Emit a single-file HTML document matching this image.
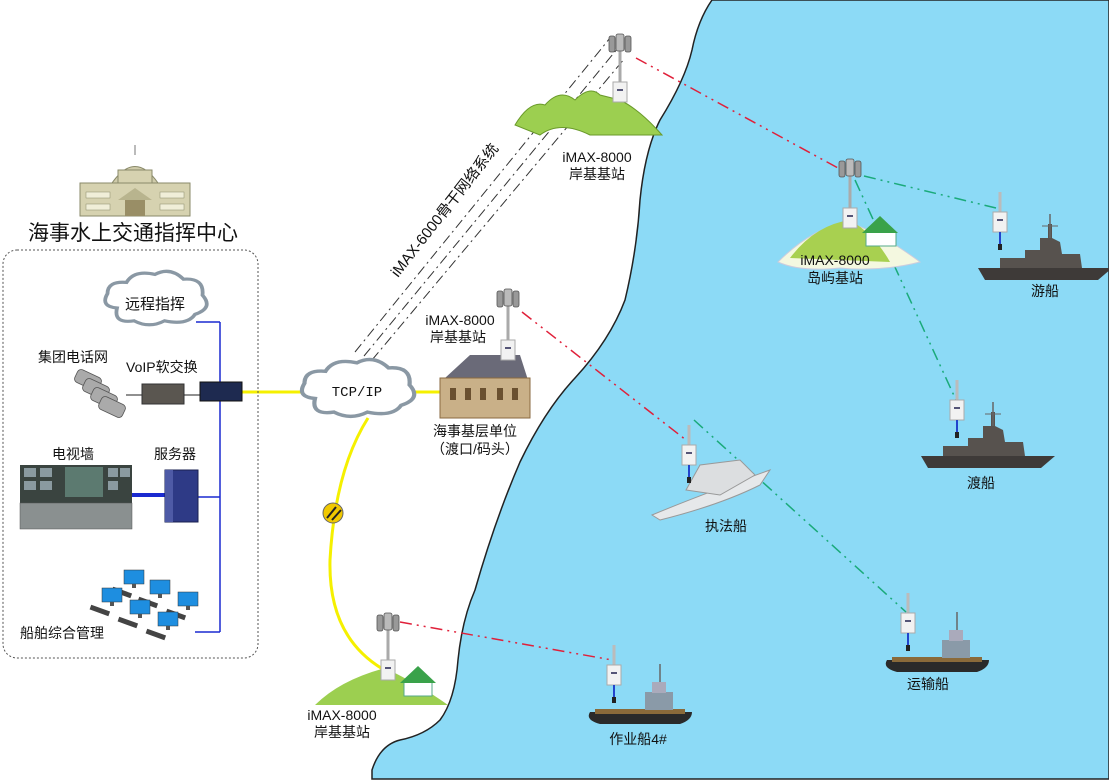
<!DOCTYPE html>
<html><head><meta charset="utf-8"><style>
html,body{margin:0;padding:0;background:#fff;}
svg{display:block;font-family:"Liberation Sans","Noto Sans CJK SC",sans-serif;}
</style></head><body>
<svg width="1109" height="781" viewBox="0 0 1109 781" xmlns="http://www.w3.org/2000/svg">
<defs>
<g id="ant">
  <rect x="-11" y="-9" width="6" height="16" rx="2" fill="#999" stroke="#555" stroke-width="0.8"/>
  <rect x="5" y="-9" width="6" height="16" rx="2" fill="#999" stroke="#555" stroke-width="0.8"/>
  <rect x="-4" y="-11" width="8" height="17" rx="2" fill="#bbb" stroke="#555" stroke-width="0.8"/>
</g>
<g id="box"><rect x="-7" y="-10" width="14" height="20" fill="#f2f2f2" stroke="#aaa"/><rect x="-3" y="-3" width="6" height="2" fill="#557"/></g>
<g id="radio">
  <line x1="0" y1="-30" x2="0" y2="-10" stroke="#bbb" stroke-width="3"/>
  <use href="#box"/>
  <line x1="0" y1="10" x2="0" y2="24" stroke="#2244cc" stroke-width="2"/>
  <rect x="-2" y="22" width="4" height="6" fill="#222"/>
</g>
<g id="warship">
  <path d="M-62 -2 L-55 10 L58 10 L72 -2 Z" fill="#3e3a38"/>
  <path d="M-40 -2 L-40 -12 L-15 -12 L-15 -20 L0 -20 L0 -32 L8 -32 L8 -46 L12 -46 L12 -32 L20 -28 L22 -16 L40 -16 L42 -2 Z" fill="#57524e"/>
  <line x1="10" y1="-56" x2="10" y2="-32" stroke="#666" stroke-width="1.5"/>
  <line x1="2" y1="-44" x2="18" y2="-44" stroke="#666"/>
</g>
<g id="tug">
  <path d="M-50 0 Q-55 8 -40 12 L40 12 Q52 8 52 0 Z" fill="#2a2a2a"/>
  <rect x="-45" y="-3" width="90" height="5" fill="#8a6a3a"/>
  <rect x="5" y="-20" width="28" height="18" fill="#8a9aa8"/>
  <rect x="12" y="-30" width="14" height="11" fill="#aab"/>
  <line x1="20" y1="-48" x2="20" y2="-30" stroke="#666" stroke-width="1.5"/>
</g>
<g id="cloud">
  <path d="M-40 10 Q-58 8 -50 -8 Q-50 -24 -30 -22 Q-22 -38 0 -32 Q16 -42 30 -26 Q52 -28 50 -6 Q62 10 42 18 Q34 32 10 26 Q-6 36 -22 26 Q-44 30 -40 10 Z" fill="#fff" stroke="#8a98a4" stroke-width="4"/>
</g>
<g id="pc">
  <rect x="0" y="0" width="20" height="14" fill="#1e8ee0" stroke="#333" stroke-width="0.5"/>
  <rect x="8" y="14" width="4" height="4" fill="#555"/>
  <rect x="-12" y="20" width="20" height="5" fill="#444" transform="rotate(20 -2 22)"/>
</g>
</defs>

<path d="M712 0 L1109 0 L1109 779 L372 779 L372 770 Q380 745 400 740 Q425 735 440 720 Q455 700 458 660 Q462 620 475 590 Q495 520 520 462 Q545 410 575 378 Q610 340 625 300 Q637 250 640 200 Q645 150 660 120 Q685 80 692 50 Q698 20 712 0 Z" fill="#8cdaf6" stroke="#222" stroke-width="1.5"/>

<g stroke="#333" stroke-width="1" fill="none" stroke-dasharray="10,4,2,4">
<line x1="355" y1="352" x2="610" y2="38"/>
<line x1="364" y1="356" x2="618" y2="48"/>
<line x1="372" y1="360" x2="625" y2="58"/>
</g>
<text transform="translate(398,278) rotate(-52)" font-size="15" fill="#111">iMAX-6000骨干网络系统</text>

<g stroke="#e0203a" stroke-width="1.5" fill="none" stroke-dasharray="12,5,2,5,2,5">
<line x1="636" y1="58" x2="838" y2="168"/>
<line x1="522" y1="312" x2="686" y2="440"/>
<line x1="400" y1="622" x2="612" y2="660"/>
</g>
<g stroke="#1aaa7a" stroke-width="1.5" fill="none" stroke-dasharray="12,5,2,5,2,5">
<line x1="864" y1="176" x2="996" y2="208"/>
<line x1="855" y1="180" x2="956" y2="400"/>
<line x1="694" y1="420" x2="906" y2="612"/>
</g>

<g stroke="#f5f000" stroke-width="3" fill="none">
<line x1="242" y1="392" x2="305" y2="392"/>
<line x1="408" y1="392" x2="442" y2="392"/>
<path d="M368 418 Q335 470 330 560 Q328 640 388 672"/>
</g>
<circle cx="333" cy="513" r="10" fill="#f0c800" stroke="#666"/>
<path d="M327 518 L336 507 M332 520 L341 510" stroke="#222" stroke-width="2"/>

<g>
<rect x="80" y="183" width="110" height="33" fill="#d6d2b0" stroke="#8a8a6a"/>
<path d="M112 183 Q135 150 158 183 Z" fill="#cfcbaa" stroke="#8a8a6a"/>
<rect x="118" y="170" width="34" height="13" fill="#d6d2b0" stroke="#8a8a6a"/>
<line x1="135" y1="155" x2="135" y2="145" stroke="#777"/>
<path d="M118 200 L135 188 L152 200 Z" fill="#b8b48e"/>
<rect x="125" y="200" width="20" height="16" fill="#998e66"/>
<g fill="#f0eed8" stroke="#8a8a6a" stroke-width="0.5">
<rect x="86" y="192" width="24" height="6"/><rect x="160" y="192" width="24" height="6"/>
<rect x="86" y="204" width="24" height="6"/><rect x="160" y="204" width="24" height="6"/>
</g>
</g>
<text x="133" y="240" font-size="21" text-anchor="middle" fill="#111">海事水上交通指挥中心</text>

<rect x="3" y="250" width="255" height="408" rx="14" fill="none" stroke="#555" stroke-width="1" stroke-dasharray="2,2"/>

<g stroke="#1a2ad0" stroke-width="1.5" fill="none">
<line x1="220" y1="322" x2="220" y2="632"/>
<line x1="196" y1="322" x2="220" y2="322"/>
<line x1="196" y1="497" x2="220" y2="497"/>
<line x1="195" y1="632" x2="220" y2="632"/>
</g>
<line x1="125" y1="495" x2="166" y2="495" stroke="#1a2ad0" stroke-width="4"/>

<g transform="translate(155,300) scale(0.95,0.8)"><use href="#cloud"/></g>
<text x="155" y="309" font-size="15" text-anchor="middle" fill="#111">远程指挥</text>

<text x="38" y="362" font-size="14" fill="#111">集团电话网</text>
<text x="126" y="372" font-size="14" fill="#111">VoIP软交换</text>
<g fill="#aaa" stroke="#555" stroke-width="0.8">
<rect x="75" y="373" width="26" height="14" rx="4" transform="rotate(25 88 380)"/>
<rect x="83" y="382" width="26" height="14" rx="4" transform="rotate(25 96 389)"/>
<rect x="91" y="391" width="26" height="14" rx="4" transform="rotate(25 104 398)"/>
<rect x="99" y="400" width="26" height="14" rx="4" transform="rotate(25 112 407)"/>
</g>
<line x1="126" y1="395" x2="142" y2="395" stroke="#222"/>
<rect x="142" y="384" width="42" height="20" fill="#5a5650" stroke="#333"/>
<line x1="184" y1="395" x2="200" y2="395" stroke="#222"/>
<rect x="200" y="382" width="42" height="19" fill="#1e2a50" stroke="#111"/>

<text x="52" y="459" font-size="14" fill="#111">电视墙</text>
<text x="154" y="459" font-size="14" fill="#111">服务器</text>
<rect x="20" y="465" width="112" height="38" fill="#3a4440"/>
<g fill="#8a9aa0"><rect x="24" y="468" width="12" height="9"/><rect x="40" y="468" width="12" height="9"/><rect x="24" y="481" width="12" height="9"/><rect x="40" y="481" width="12" height="9"/><rect x="108" y="468" width="10" height="9"/><rect x="120" y="468" width="10" height="9"/><rect x="108" y="481" width="10" height="9"/></g>
<rect x="65" y="467" width="38" height="30" fill="#5c7a70"/>
<rect x="20" y="503" width="112" height="26" fill="#8a9090" stroke="#555" stroke-width="0.5"/>
<rect x="165" y="470" width="33" height="52" fill="#2e3a86" stroke="#1a2050"/>
<rect x="165" y="470" width="8" height="52" fill="#4e5aa6"/>

<g transform="translate(124,570)"><use href="#pc"/></g>
<g transform="translate(150,580)"><use href="#pc"/></g>
<g transform="translate(178,592)"><use href="#pc"/></g>
<g transform="translate(102,588)"><use href="#pc"/></g>
<g transform="translate(130,600)"><use href="#pc"/></g>
<g transform="translate(158,612)"><use href="#pc"/></g>
<text x="20" y="638" font-size="14" fill="#111">船舶综合管理</text>

<g transform="translate(357,390) scale(1.05,0.85)"><use href="#cloud"/></g>
<text x="357" y="396" font-size="14" text-anchor="middle" font-family="Liberation Mono,monospace" fill="#111">TCP/IP</text>

<path d="M515 125 Q530 100 545 105 Q560 88 575 100 Q590 85 600 95 L620 100 Q640 110 662 135 L590 135 Q560 120 540 135 Z" fill="#9ccf50" stroke="#6a9a2a"/>
<line x1="620" y1="45" x2="620" y2="83" stroke="#aaa" stroke-width="3"/>
<g transform="translate(620,45)"><use href="#ant"/></g>
<g transform="translate(620,92)"><use href="#box"/></g>
<text x="597" y="162" font-size="14" text-anchor="middle" fill="#111">iMAX-8000</text>
<text x="597" y="179" font-size="14" text-anchor="middle" fill="#111">岸基基站</text>

<path d="M778 262 Q810 230 845 222 Q870 228 900 248 Q915 258 920 262 Q880 272 840 268 Q800 272 778 262 Z" fill="#f4f8e0" stroke="#ccd"/>
<path d="M790 258 Q815 225 850 220 Q875 235 890 262 Z" fill="#a8d050"/>
<path d="M866 232 L880 220 L896 232 L896 246 L866 246 Z" fill="#fff" stroke="#5a8"/>
<path d="M862 233 L880 216 L898 233" fill="#3aa24a"/>
<line x1="850" y1="170" x2="850" y2="210" stroke="#aaa" stroke-width="3"/>
<g transform="translate(850,170)"><use href="#ant"/></g>
<g transform="translate(850,218)"><use href="#box"/></g>
<text x="835" y="265" font-size="14" text-anchor="middle" fill="#111">iMAX-8000</text>
<text x="835" y="283" font-size="14" text-anchor="middle" fill="#111">岛屿基站</text>

<line x1="508" y1="300" x2="508" y2="340" stroke="#aaa" stroke-width="3"/>
<g transform="translate(508,300)"><use href="#ant"/></g>
<text x="460" y="325" font-size="14" text-anchor="middle" fill="#111">iMAX-8000</text>
<text x="458" y="342" font-size="14" text-anchor="middle" fill="#111">岸基基站</text>
<path d="M445 378 L470 355 L520 355 L528 380 Z" fill="#6a6a78"/>
<rect x="440" y="378" width="90" height="40" fill="#c9b088" stroke="#8a6a40"/>
<g fill="#6a5030"><rect x="450" y="388" width="6" height="12"/><rect x="465" y="388" width="6" height="12"/><rect x="480" y="388" width="6" height="12"/><rect x="497" y="388" width="6" height="12"/><rect x="512" y="388" width="6" height="12"/></g>
<g transform="translate(508,350)"><use href="#box"/></g>
<text x="475" y="436" font-size="14" text-anchor="middle" fill="#111">海事基层单位</text>
<text x="475" y="454" font-size="14" text-anchor="middle" fill="#111">（渡口/码头）</text>

<path d="M315 705 Q340 680 385 668 Q420 685 448 705 Z" fill="#9ccf50"/>
<path d="M404 682 L418 670 L432 682 L432 696 L404 696 Z" fill="#fff" stroke="#5a8"/>
<path d="M400 683 L418 666 L436 683" fill="#3aa24a"/>
<line x1="388" y1="624" x2="388" y2="662" stroke="#aaa" stroke-width="3"/>
<g transform="translate(388,624)"><use href="#ant"/></g>
<g transform="translate(388,670)"><use href="#box"/></g>
<text x="342" y="720" font-size="14" text-anchor="middle" fill="#111">iMAX-8000</text>
<text x="342" y="737" font-size="14" text-anchor="middle" fill="#111">岸基基站</text>

<g transform="translate(1040,270)"><use href="#warship"/></g>
<g transform="translate(1000,222)"><use href="#radio"/></g>
<text x="1045" y="296" font-size="14" text-anchor="middle" fill="#111">游船</text>

<g transform="translate(983,458)"><use href="#warship"/></g>
<g transform="translate(957,410)"><use href="#radio"/></g>
<text x="981" y="488" font-size="14" text-anchor="middle" fill="#111">渡船</text>

<path d="M652 515 Q700 495 770 470 L760 485 Q720 505 660 520 Z" fill="#e6e8ea" stroke="#999"/>
<path d="M686 490 L700 465 L740 460 L755 475 L720 495 Z" fill="#dcdee0" stroke="#999"/>
<g transform="translate(689,455)"><use href="#radio"/></g>
<text x="726" y="531" font-size="14" text-anchor="middle" fill="#111">执法船</text>

<g transform="translate(937,660)"><use href="#tug"/></g>
<g transform="translate(908,623)"><use href="#radio"/></g>
<text x="928" y="689" font-size="14" text-anchor="middle" fill="#111">运输船</text>

<g transform="translate(640,712)"><use href="#tug"/></g>
<g transform="translate(614,675)"><use href="#radio"/></g>
<text x="638" y="744" font-size="14" text-anchor="middle" fill="#111">作业船4#</text>
</svg>
</body></html>
